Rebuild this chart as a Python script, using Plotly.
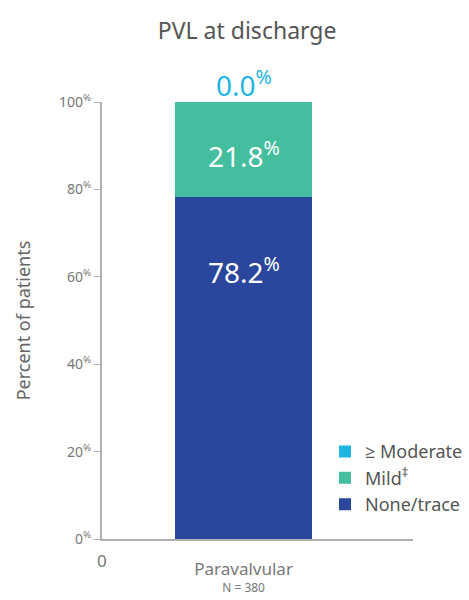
import plotly.graph_objects as go

categories = ["Paravalvular"]
none_trace = [78.2]
mild = [21.8]
moderate = [0.0]
series_names = ["None/trace", "Mild<sup>\u2021</sup>", "\u2265 Moderate"]
colors = ["#2a479d", "#44be9e", "#1db5e2"]
tick_vals = [0, 20, 40, 60, 80, 100]
tick_text = [f"{v}<sup>%</sup>" for v in tick_vals]

fig = go.Figure()
for name, vals, col in zip(series_names, [none_trace, mild, moderate], colors):
    fig.add_trace(go.Bar(x=categories, y=vals, name=name, marker_color=col,
                         marker_line_width=0, width=0.6))

font_fam = "'Noto Sans', 'Open Sans', sans-serif"
fig.update_layout(
    barmode="stack",
    width=469, height=600,
    margin=dict(l=102, r=56, t=102, b=61, autoexpand=False),
    paper_bgcolor="white", plot_bgcolor="white",
    font=dict(family=font_fam, color="#666666"),
    title=dict(text="PVL at discharge", x=0.527, xanchor="center", y=0.948, yanchor="middle",
               font=dict(size=23, color="#555555", family=font_fam)),
    showlegend=True,
    legend=dict(x=0.693, y=0.278, xref="container", yref="container",
                xanchor="left", yanchor="top", traceorder="reversed",
                font=dict(size=18, color="#555555"), itemwidth=30, tracegroupgap=0,
                bgcolor="rgba(0,0,0,0)"),
    bargap=0,
)
fig.update_yaxes(range=[0, 100], tickvals=tick_vals, ticktext=tick_text, automargin=False,
                 showgrid=False, zeroline=False, showline=True, linecolor="#b0b0b0", linewidth=2,
                 ticks="outside", ticklen=6, tickcolor="#b0b0b0",
                 tickfont=dict(size=14, color="#777777"),
                 title=dict(text="Percent of patients", font=dict(size=18, color="#666666"), standoff=24))
fig.update_xaxes(range=[-0.62, 0.742], showgrid=False, showline=True, linecolor="#b0b0b0", linewidth=2,
                 ticks="", tickvals=categories, ticklabelstandoff=18, automargin=False,
                 ticktext=["<span style='font-size:17px'>Paravalvular</span><br><span style='font-size:12px'>N = 380</span>"],
                 tickfont=dict(size=13, color="#777777"))

total_mod = none_trace[0] + mild[0] + moderate[0]
fig.add_annotation(x=categories[0], y=total_mod, text=f"{moderate[0]:.1f}<sup>%</sup>",
                   showarrow=False, yanchor="bottom", yshift=-4,
                   font=dict(size=28, color="#1db5e2"))
fig.add_annotation(x=categories[0], y=none_trace[0] + mild[0] / 2 - 1.2, text=f"{mild[0]:.1f}<sup>%</sup>",
                   showarrow=False, font=dict(size=28, color="white"))
fig.add_annotation(x=categories[0], y=61.5, text=f"{none_trace[0]:.1f}<sup>%</sup>",
                   showarrow=False, font=dict(size=28, color="white"))
fig.add_annotation(x=0, xref="paper", y=-0.05, yref="paper", text="0", showarrow=False,
                   xshift=-7, font=dict(size=17, color="#777777"), yanchor="middle")

fig.write_html("out.html", config={"displayModeBar": False},
               post_script="document.body.style.margin='0';document.body.style.overflow='hidden';")
